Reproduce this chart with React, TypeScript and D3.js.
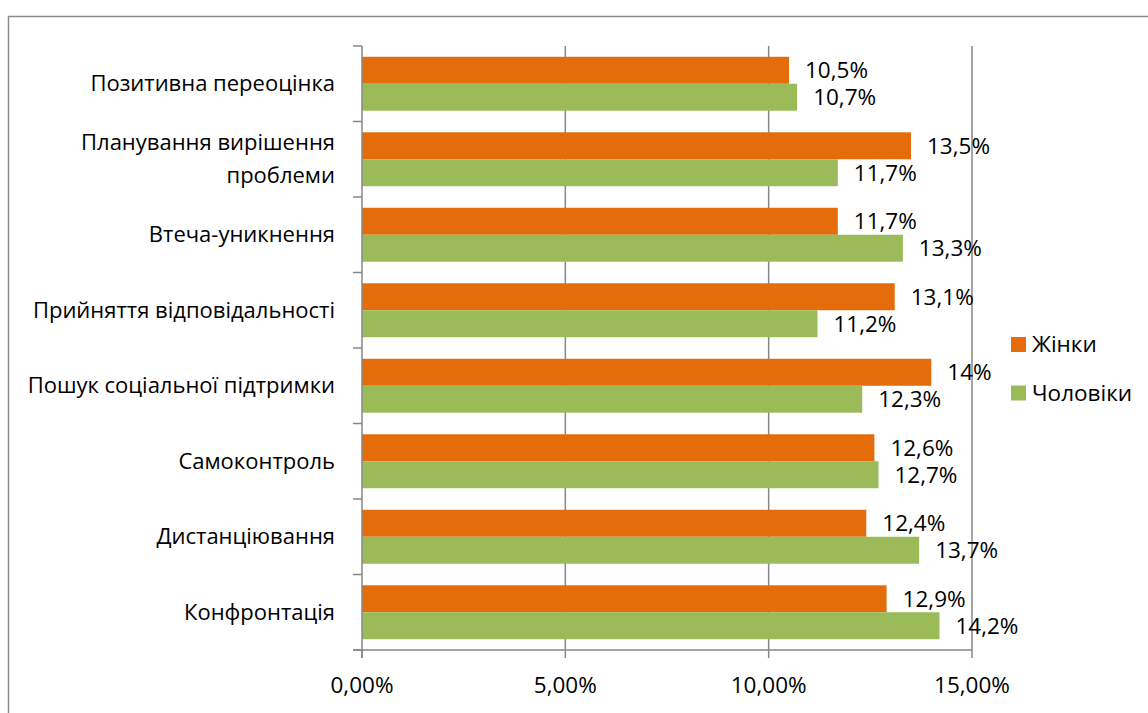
import React from "react";
import * as d3 from "d3";

const categories = [
  "Позитивна переоцінка",
  "Планування вирішення проблеми",
  "Втеча-уникнення",
  "Прийняття відповідальності",
  "Пошук соціальної підтримки",
  "Самоконтроль",
  "Дистанціювання",
  "Конфронтація",
];
const categoryLines: Record<string, string[]> = {
  "Планування вирішення проблеми": ["Планування вирішення", "проблеми"],
};
const women = [10.5, 13.5, 11.7, 13.1, 14, 12.6, 12.4, 12.9];
const men = [10.7, 11.7, 13.3, 11.2, 12.3, 12.7, 13.7, 14.2];
const xTicks = [0, 5, 10, 15];
const seriesNames = ["Жінки", "Чоловіки"];
const seriesColors = ["#E46C0A", "#9BBB59"];

const FONT = "'Open Sans', 'Noto Sans', sans-serif";

const fmtValue = (v: number) => String(v).replace(".", ",") + "%";
const fmtTick = (v: number) => v.toFixed(2).replace(".", ",") + "%";

export default function App() {
  const W = 1148;
  const H = 713;
  const x = d3.scaleLinear().domain([0, 15]).range([362, 972]);
  const y = d3.scaleBand<string>().domain(categories).range([46, 650]);
  const inner = d3
    .scaleBand<string>()
    .domain(seriesNames)
    .range([0, y.bandwidth()])
    .paddingOuter(0.4)
    .paddingInner(0);
  const series = [women, men];
  const axisColor = "#878787";
  const boundaries = categories.map((c) => y(c) as number).concat([650]);

  return (
    <svg
      width={W}
      height={H}
      style={{ position: "absolute", left: 0, top: 0, background: "#fff" }}
      fontFamily={FONT}
    >
      <rect x={8.5} y={16.5} width={W + 20} height={H + 20} fill="none" stroke="#8c8c8c" strokeWidth={1.5} />

      {/* vertical gridlines */}
      {xTicks.slice(1).map((t) => (
        <line key={t} x1={x(t)} x2={x(t)} y1={46} y2={650} stroke={axisColor} strokeWidth={1.5} />
      ))}

      {/* bars */}
      {categories.map((c, i) =>
        series.map((s, k) => {
          const by = (y(c) as number) + (inner(seriesNames[k]) as number);
          const bh = inner.bandwidth();
          return (
            <rect key={c + k} x={x(0)} y={by} width={x(s[i]) - x(0)} height={bh} fill={seriesColors[k]} />
          );
        })
      )}

      {/* axes */}
      <line x1={x(0)} x2={x(0)} y1={46} y2={658} stroke={axisColor} strokeWidth={1.5} />
      <line x1={353} x2={x(15)} y1={650} y2={650} stroke={axisColor} strokeWidth={1.5} />
      {boundaries.map((b, i) => (
        <line key={i} x1={353} x2={x(0)} y1={b} y2={b} stroke={axisColor} strokeWidth={1.5} />
      ))}
      {xTicks.map((t) => (
        <g key={t}>
          <line x1={x(t)} x2={x(t)} y1={650} y2={658} stroke={axisColor} strokeWidth={1.5} />
          <text x={x(t)} y={693} textAnchor="middle" fontSize={22.5} fill="#000">
            {fmtTick(t)}
          </text>
        </g>
      ))}

      {/* value labels */}
      {categories.map((c, i) =>
        series.map((s, k) => {
          const cy = (y(c) as number) + (inner(seriesNames[k]) as number) + inner.bandwidth() / 2;
          return (
            <text key={c + "l" + k} x={x(s[i]) + 16} y={cy} dy="0.35em" fontSize={22.5} fill="#000">
              {fmtValue(s[i])}
            </text>
          );
        })
      )}

      {/* category labels */}
      {categories.map((c) => {
        const lines = categoryLines[c] || [c];
        const cy = (y(c) as number) + y.bandwidth() / 2;
        const lh = 33;
        return (
          <text key={c} x={335} textAnchor="end" fontSize={22} fill="#000">
            {lines.map((l, j) => (
              <tspan key={j} x={335} y={cy + (j - (lines.length - 1) / 2) * lh} dy="0.35em">
                {l}
              </tspan>
            ))}
          </text>
        );
      })}

      {/* legend */}
      {seriesNames.map((n, k) => (
        <g key={n} transform={`translate(1011, ${344.5 + k * 48.5})`}>
          <rect x={0} y={-7.5} width={15} height={15} fill={seriesColors[k]} />
          <text x={21} y={0} dy="0.35em" fontSize={22.5} fill="#000">
            {n}
          </text>
        </g>
      ))}
    </svg>
  );
}
